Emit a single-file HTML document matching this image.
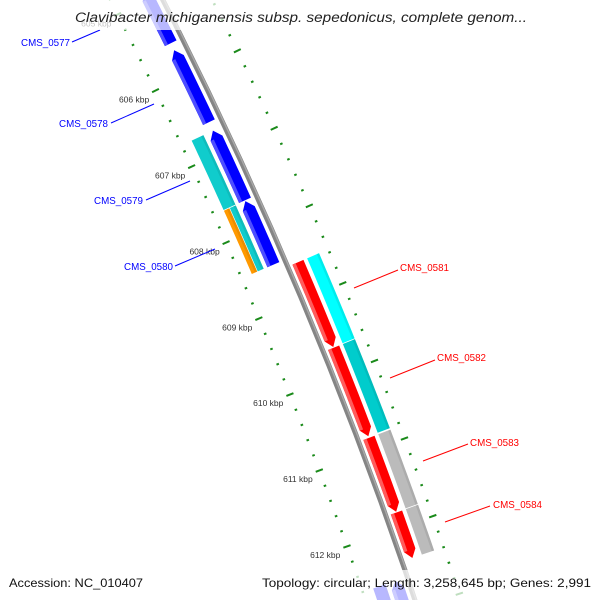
<!DOCTYPE html>
<html><head><meta charset="utf-8"><style>
html,body{margin:0;padding:0;background:#fff;width:600px;height:600px;overflow:hidden}
svg{display:block;overflow:hidden}
text{font-family:"Liberation Sans","DejaVu Sans",sans-serif}
</style></head><body>
<svg id="map" width="600" height="600" viewBox="0 0 600 600" xmlns="http://www.w3.org/2000/svg">
<g id="ticks"></g>
<g id="backbone"></g>
<g id="genes"></g>
<g id="cogs"></g>
<g id="labels"></g>
<rect x="73" y="0" width="458" height="30" fill="#fff" fill-opacity="0.72"/>
<text x="75" y="22" font-size="13.5" font-style="italic" fill="#222" textLength="452" lengthAdjust="spacingAndGlyphs">Clavibacter michiganensis subsp. sepedonicus, complete genom...</text>
<rect x="0" y="570" width="600" height="30" fill="#fff" fill-opacity="0.72"/>
<text x="9" y="587" font-size="12" fill="#111" textLength="134" lengthAdjust="spacingAndGlyphs">Accession: NC_010407</text>
<text x="591" y="587" font-size="12" fill="#111" text-anchor="end" textLength="329" lengthAdjust="spacingAndGlyphs">Topology: circular; Length: 3,258,645 bp; Genes: 2,991</text>
</svg>
<script>
// ---- data ----
const geneNames = ['CMS_0577','CMS_0578','CMS_0579','CMS_0580','CMS_0581','CMS_0582','CMS_0583','CMS_0584','CMS_0585'];
const geneStarts = [604.9, 605.67, 606.72, 607.64, 608.56, 609.67, 610.84, 611.81, 612.6];
const geneEnds   = [605.58, 606.61, 607.63, 608.47, 609.66, 610.82, 611.80, 612.4, 613.4];
const geneStrands = [-1, -1, -1, -1, 1, 1, 1, 1, -1];
const cogColors = ['', '', '#10cccc', '#ff9900|#10cccc', '#00ffff', '#00cccc', '#bbbbbb', '#bbbbbb', '#0000ff'];
const tickKbp = [605, 606, 607, 608, 609, 610, 611, 612];
const tickLabels = ['605 kbp','606 kbp','607 kbp','608 kbp','609 kbp','610 kbp','611 kbp','612 kbp'];
const labelledGenes = ['CMS_0577','CMS_0578','CMS_0579','CMS_0580','CMS_0581','CMS_0582','CMS_0583','CMS_0584'];

// ---- axis (kbp -> spine position, offset perpendicular) ----
const NS = 'http://www.w3.org/2000/svg';
function spineY(k){ return 70 + (k - 606) * 76.8; }
function P(k, off){
  const y0 = spineY(k);
  const x0 = 163 + 0.5067*y0 - 1.444e-4*y0*y0;
  const dx = 0.5067 - 2.888e-4*y0;
  const n = Math.sqrt(1 + dx*dx);
  return [x0 + off/n, y0 - off*dx/n];
}
function pts(arr){ return arr.map(p => p[0].toFixed(2)+','+p[1].toFixed(2)).join(' '); }
function line(a, b, o1, o2, steps){
  const r = [];
  for (let i = 0; i <= steps; i++){ const k = a + (b-a)*i/steps; r.push(P(k, o1 + (o2-o1)*i/steps)); }
  return r;
}
function along(a, b, off){ return line(a, b, off, off, 10); }
function bandPts(a, b, o1, o2){ return along(a, b, o1).concat(along(b, a, o2)); }
function mk(tag, attrs, parent){
  const e = document.createElementNS(NS, tag);
  for (const k in attrs) e.setAttribute(k, attrs[k]);
  parent.appendChild(e);
  return e;
}

// ---- ticks ----
const tg = document.getElementById('ticks');
const GREEN = '#1a8a1a';
[-47, 44].forEach((base, ti) => {
  for (let i = 0; i <= 42; i++){
    const k = 604.8 + i*0.2;
    const major = Math.abs(k - Math.round(k)) < 1e-6;
    const half = major ? 3.8 : 1.3;
    const a = P(k, base - half), b = P(k, base + half);
    const t = mk('line', {x1:a[0], y1:a[1], x2:b[0], y2:b[1], stroke:GREEN, 'stroke-width': 2}, tg);
    
    
  }
});
tickKbp.forEach((k, i) => {
  const p = P(k, -54);
  const t = mk('text', {x:p[0], y:p[1]+9, 'font-size':8.5, fill:'#333', 'text-anchor':'end'}, tg);
  
  
  t.textContent = tickLabels[i];
});

// ---- backbone ----
const bg = document.getElementById('backbone');
const bb = mk('polyline', {points: pts(along(604.5, 613.4, 0)), fill:'none', stroke:'#858585', 'stroke-width':5}, bg);


const bb2 = mk('polyline', {points: pts(along(604.5, 613.4, 1.2)), fill:'none', stroke:'#a8a8a8', 'stroke-width':1.4}, bg);



// ---- genes ----
const gg = document.getElementById('genes');
const HEAD = 0.1;
geneNames.forEach((name, i) => {
  const a = geneStarts[i], b = geneEnds[i], s = geneStrands[i];
  const o1 = s > 0 ? 5 : -19, o2 = s > 0 ? 17 : -6;
  const mid = (o1 + o2) / 2;
  let poly, strip;
  if (s > 0){
    poly = along(a, b-HEAD, o1).concat([P(b, mid)]).concat(along(b-HEAD, a, o2));
    strip = bandPts(a, b-HEAD, o1, o1+3.5);
  } else {
    poly = [P(a, mid)].concat(along(a+HEAD, b, o1)).concat(along(b, a+HEAD, o2));
    strip = bandPts(a+HEAD, b, o1, o1+3.5);
  }
  const g = mk('g', {}, gg);
  
  
  const base = s > 0 ? '#ff0000' : '#0000ff';
  const light = s > 0 ? '#ff5c5c' : '#4e4eff';
  const e1 = mk('polygon', {points: pts(poly), fill: base}, g);
  
  
  const e2 = mk('polygon', {points: pts(strip), fill: light}, g);
  
  
});

// ---- COG bars ----
const cg = document.getElementById('cogs');
geneNames.forEach((name, i) => {
  if (!cogColors[i]) return;
  const a = geneStarts[i], b = geneEnds[i], s = geneStrands[i];
  const lo = s > 0 ? 21 : -36, hi = s > 0 ? 34 : -23;
  const cols = cogColors[i].split('|');
  const w = (hi - lo) / cols.length;
  cols.forEach((c, j) => {
    const l = lo + j*w, h = lo + (j+1)*w - (cols.length > 1 && j === 0 ? 0.6 : 0);
    const r = mk('polygon', {points: pts(bandPts(a, b, l, h)), fill: c}, cg);
    
    
    const sh = mk('polygon', {points: pts(bandPts(a, b, h-2.5, h)), fill: '#000', 'fill-opacity': 0.08}, cg);
    
    
  });
});

// ---- labels ----
const lg = document.getElementById('labels');
const labelBoxes = [
  {tx:70, ty:46, lx1:72, ly1:42, lx2:100, ly2:30, c:'#0000ff'},
  {tx:108, ty:127, lx1:111, ly1:123, lx2:154, ly2:104, c:'#0000ff'},
  {tx:143, ty:204, lx1:146, ly1:200, lx2:190, ly2:181, c:'#0000ff'},
  {tx:173, ty:270, lx1:175, ly1:266, lx2:215, ly2:249, c:'#0000ff'},
  {tx:400, ty:271, lx1:354, ly1:288, lx2:398, ly2:270, c:'#ff0000', left:true},
  {tx:437, ty:361, lx1:390, ly1:378, lx2:435, ly2:360, c:'#ff0000', left:true},
  {tx:470, ty:446, lx1:423, ly1:461, lx2:468, ly2:444, c:'#ff0000', left:true},
  {tx:493, ty:508, lx1:445, ly1:522, lx2:490, ly2:506, c:'#ff0000', left:true}
];
labelledGenes.forEach((name, i) => {
  const L = labelBoxes[i];
  const ln = mk('line', {x1:L.lx1, y1:L.ly1, x2:L.lx2, y2:L.ly2, stroke:L.c, 'stroke-width':1}, lg);
  
  
  const t = mk('text', {x:L.tx, y:L.ty, 'font-size':10.5, fill:L.c, 'text-anchor': L.left ? 'start' : 'end', textLength:49, lengthAdjust:'spacingAndGlyphs'}, lg);
  
  
  t.textContent = name;
});
</script>
</body></html>
